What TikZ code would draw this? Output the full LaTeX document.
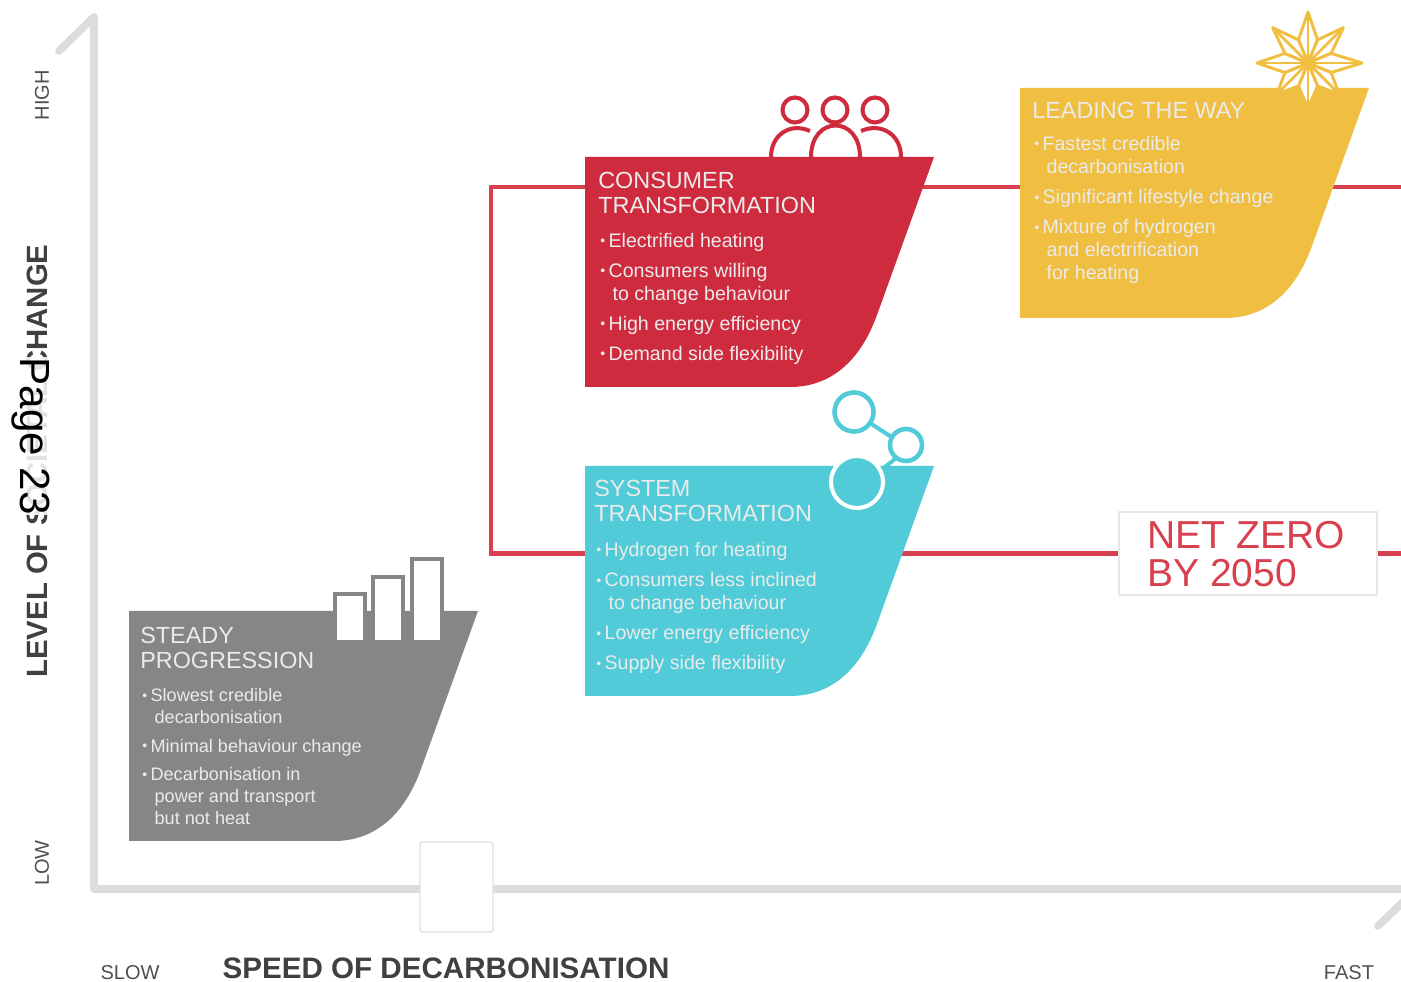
\documentclass[tikz,border=0pt]{standalone}
\usepackage{fontspec}
\setmainfont{Liberation Sans}
\usetikzlibrary{positioning,calc}

\definecolor{consumerred}{HTML}{CF2B3E}
\definecolor{routered}{HTML}{D8404F}
\definecolor{leadyellow}{HTML}{F0BE41}
\definecolor{systemteal}{HTML}{50CBD7}
\definecolor{steadygrey}{HTML}{868686}
\definecolor{axisgrey}{HTML}{DCDCDC}
\definecolor{labelgrey}{HTML}{505050}

\newcommand{\bul}{\makebox[4.7pt][l]{\raisebox{.15ex}{\fontsize{8}{8}\selectfont\textbullet}}}
\newcommand{\cont}{\hspace{7pt}}

\tikzset{
    pics/shipshape/.style={code={
        \fill[pic actions] (0,0) -- (349,0) -- (292,158)
            .. controls (275,205) and (245,230) .. (205,230) -- (0,230) -- cycle;
    }},
    shiptitle/.style={anchor=north west, inner sep=0pt, align=left, text=white!92!black,
        font=\fontsize{13.3}{14.2}\selectfont},
    shiplist/.style={anchor=north west, inner sep=0pt, align=left, text=white!92!black,
        font=\fontsize{11.15}{13.1}\selectfont},
    smalllist/.style={shiplist, font=\fontsize{10.3}{12.5}\selectfont},
    axislabel/.style={inner sep=0pt, text=labelgrey, font=\fontsize{11.4}{12}\selectfont},
    axistitle/.style={inner sep=0pt, text=black!75, font=\bfseries\fontsize{16.85}{18}\selectfont},
    axisline/.style={draw=axisgrey, line width=4.4pt, line join=round, line cap=round},
    routeline/.style={draw=routered, line width=2.8pt},
}

\begin{document}
\begin{tikzpicture}[x=0.02cm, y=-0.02cm]
    \useasboundingbox (0,0) rectangle (1401,982);

    % Axes
    \coordinate (axistip) at (59,51);
    \coordinate (axistop) at (94,17);
    \coordinate (axiscorner) at (94,889);
    \coordinate (axisright) at (1403,889);
    \coordinate (axisflick) at (1378,926);
    \coordinate (axisflicktop) at (1403,902);
    \draw[axisline] (axistip) -- (axistop) -- (axiscorner) -- (axisright);
    \draw[axisline] (axisflicktop) -- (axisflick);

    % Routes
    \node[draw=black!9, fill=white, line width=0.8pt, minimum width=5.16cm, minimum height=1.66cm,
        inner sep=0pt] (netzero) at (1248,553.5) {};
    \coordinate (topright) at (1401,187);
    \coordinate (elbowtop) at (491,187);
    \coordinate (elbowlow) at (491,553.5);
    \coordinate (lowright) at (1401,553.5);
    \draw[routeline] (topright) -- (elbowtop) -- (elbowlow) -- (netzero.west);
    \draw[routeline] (netzero.east) -- (lowright);
    \node[anchor=west, inner sep=0pt, align=left, text=routered,
        font=\fontsize{22.2}{21.6}\selectfont] (netzerotext) at (1147,554.5) {NET ZERO\\BY 2050};

    % Ships
    \pic[fill=consumerred] at (585,157) {shipshape};
    \pic[fill=leadyellow] at (1020,88) {shipshape};
    \pic[fill=systemteal] at (585,466) {shipshape};
    \pic[fill=steadygrey] at (129,611) {shipshape};

    % People
    \foreach \x in {795,875} {
        \draw[consumerred, line width=2.3pt, fill=white] (\x,110) circle (12.5);
    }
    \draw[consumerred, line width=2.3pt] (771,157) .. controls (771,135) and (790,122) .. (810,131);
    \draw[consumerred, line width=2.3pt] (901,157) .. controls (901,135) and (882,122) .. (861,131);
    \draw[consumerred, line width=2.3pt, fill=white] (835,110) circle (12.5);
    \draw[consumerred, line width=2.3pt] (811,157) .. controls (811,115) and (860,115) .. (860,157);

    % Star
    \begin{scope}[shift={(1308,63)}]
        \foreach \a/\r in {-90/51,-45/50,0/54,45/44,90/45,135/44,180/51,-135/50} {
            \draw[leadyellow, fill=white, line width=1.7pt, line join=round]
                (0,0) -- (\a-22.5:25) -- (\a:\r) -- (\a+22.5:25) -- cycle;
            \draw[leadyellow, line width=1.6pt] (0,0) -- (\a:\r);
        }
        \fill[leadyellow] (0,0) circle (6);
    \end{scope}

    % Molecule
    \draw[systemteal, line width=2.3pt] (870,423) -- (893,438);
    \draw[systemteal, line width=2.3pt] (895,459) -- (875,475);
    \draw[systemteal, line width=2.6pt, fill=white] (854,412) circle (19.5);
    \draw[systemteal, line width=2.6pt, fill=white] (906,445) circle (16);
    \draw[white, line width=2.3pt, fill=systemteal] (857,482) circle (26);

    % Bars
    \foreach \x/\w/\t in {335/30/594,373/30/577,412/30/559} {
        \draw[steadygrey, line width=2.3pt, fill=white] (\x,642) rectangle (\x+\w,\t);
    }

    % Consumer text
    \node[shiptitle] (consumertitle) at (598,171.5) {CONSUMER\\TRANSFORMATION};
    \node[shiplist] (consumerlist) at (600,232.5) {\bul Electrified heating\\[4pt]
        \bul Consumers willing\\ \cont to change behaviour\\[4pt]
        \bul High energy efficiency\\[4pt]
        \bul Demand side flexibility};

    % Leading text
    \node[shiptitle] (leadtitle) at (1032,102) {LEADING THE WAY};
    \node[shiplist] (leadlist) at (1034,136) {\bul Fastest credible\\ \cont decarbonisation\\[4pt]
        \bul Significant lifestyle change\\[4pt]
        \bul Mixture of hydrogen\\ \cont and electrification\\ \cont for heating};

    % System text
    \node[shiptitle] (systemtitle) at (594,480) {SYSTEM\\TRANSFORMATION};
    \node[shiplist] (systemlist) at (596,542) {\bul Hydrogen for heating\\[4pt]
        \bul Consumers less inclined\\ \cont to change behaviour\\[4pt]
        \bul Lower energy efficiency\\[4pt]
        \bul Supply side flexibility};

    % Steady text
    \node[shiptitle] (steadytitle) at (140,627) {STEADY\\PROGRESSION};
    \node[smalllist] (steadylist) at (142,688) {\bul Slowest credible\\ \cont decarbonisation\\[3.8pt]
        \bul Minimal behaviour change\\[3.8pt]
        \bul Decarbonisation in\\ \cont power and transport\\ \cont but not heat};

    % Empty box on the axis
    \node[draw=black!12, fill=white, line width=0.8pt, rounded corners=1pt, minimum width=1.46cm,
        minimum height=1.8cm, inner sep=0pt] (axisbox) at (456.5,887) {};

    % Axis labels
    \node[axislabel, rotate=90] (highlabel) at (42,95) {HIGH};
    \node[axislabel, rotate=90] (lowlabel) at (42,863) {LOW};
    \node[axistitle, rotate=90, font=\bfseries\fontsize{16.7}{18}\selectfont] (leveltitle) at (37,461) {LEVEL OF SOCIETAL CHANGE};
    \node[axislabel] (slowlabel) at (130,973) {SLOW};
    \node[axislabel] (fastlabel) at (1349,973) {FAST};
    \node[axistitle] (speedtitle) at (446,968) {SPEED OF DECARBONISATION};

    \node[inner sep=0pt, rotate=-90, fill=white, fill opacity=0.85, text opacity=1,
        font=\fontsize{24}{26}\selectfont] (pagemark) at (31,436) {Page 23};
\end{tikzpicture}
\end{document}
